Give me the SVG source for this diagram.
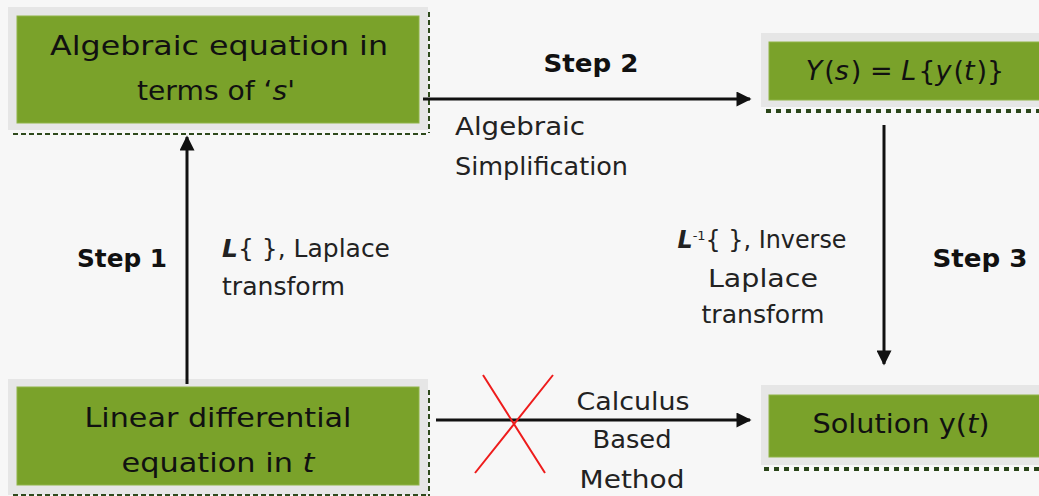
<svg xmlns="http://www.w3.org/2000/svg" width="1039" height="496" viewBox="0 0 1039 496">
<defs>
<style>
.bg{fill:#f7f7f7}
.outer{fill:#e6e6e6}
.inner{fill:#7aa22a;stroke:#8fb447;stroke-width:1}
.dash{stroke:#2e4a1c;stroke-width:2;stroke-dasharray:5 3;fill:none}
.dot{stroke:#2a4519;stroke-width:4;stroke-dasharray:5 5;fill:none}
.t{font-family:"DejaVu Sans","Liberation Sans",sans-serif;fill:#111}
.node{font-size:27px;text-anchor:middle}
.lab{font-size:24px;fill:#222}
.step{font-size:24px;font-weight:bold}
.edge{stroke:#111;stroke-width:3;fill:none}
</style>
<marker id="ah" viewBox="0 0 10 10" refX="9" refY="5" markerWidth="5.5" markerHeight="5" orient="auto" markerUnits="strokeWidth">
<path d="M0,0 L10,5 L0,10 Z" fill="#111"/>
</marker>
</defs>
<rect class="bg" x="0" y="0" width="1039" height="496"/>

<g id="node-algebraic">
<rect class="outer" x="8" y="7" width="420" height="123"/>
<rect class="inner" x="17" y="16" width="402" height="107"/>
<path class="dash" d="M429,12 V133 M13,134 H429"/>
<text class="t node" x="219" y="55" textLength="338" lengthAdjust="spacingAndGlyphs">Algebraic equation in</text>
<text class="t node" x="216" y="100" textLength="158" lengthAdjust="spacingAndGlyphs">terms of ‘<tspan font-style="italic">s</tspan>'</text>
</g>

<g id="node-Ys">
<rect class="outer" x="761" y="33" width="290" height="74"/>
<rect class="inner" x="769" y="42" width="280" height="58"/>
<path class="dot" d="M766,111 H1039"/>
<text class="t node" x="905" y="80"><tspan font-style="italic">Y</tspan><tspan dx="2">(</tspan><tspan font-style="italic">s</tspan><tspan dx="2">) = </tspan><tspan font-style="italic">L</tspan><tspan dx="2">{</tspan><tspan font-style="italic">y</tspan><tspan dx="2">(</tspan><tspan font-style="italic">t</tspan><tspan dx="2">)}</tspan></text>
</g>

<g id="node-linear">
<rect class="outer" x="8" y="379" width="420" height="116"/>
<rect class="inner" x="17" y="387" width="402" height="98"/>
<path class="dash" d="M429,390 V496 M13,495 H429"/>
<text class="t node" x="218" y="427" textLength="267" lengthAdjust="spacingAndGlyphs">Linear differential</text>
<text class="t node" x="218" y="472" textLength="193" lengthAdjust="spacingAndGlyphs">equation in <tspan font-style="italic">t</tspan></text>
</g>

<g id="node-solution">
<rect class="outer" x="761" y="385" width="290" height="80"/>
<rect class="inner" x="769" y="395" width="280" height="62"/>
<path class="dot" d="M764,469 H1039"/>
<text class="t node" x="901" y="433" textLength="177" lengthAdjust="spacingAndGlyphs">Solution y(<tspan font-style="italic">t</tspan>)</text>
</g>

<g id="connectors">
<line class="edge" x1="187" y1="384" x2="187" y2="137" marker-end="url(#ah)"/>
<line class="edge" x1="423" y1="99" x2="750" y2="99" marker-end="url(#ah)"/>
<line class="edge" x1="884" y1="125" x2="884" y2="364" marker-end="url(#ah)"/>
<line class="edge" x1="436" y1="420" x2="750" y2="420" marker-end="url(#ah)"/>
<path d="M483,375 L545,473 M553,375 L475,473" stroke="#ee1c1c" stroke-width="2" fill="none"/>
</g>

<g id="labels">
<text class="t step" x="122" y="267" text-anchor="middle" textLength="90" lengthAdjust="spacingAndGlyphs">Step 1</text>
<text class="t lab" x="222" y="257" textLength="168" lengthAdjust="spacingAndGlyphs"><tspan font-weight="bold" font-style="italic">L</tspan>{ }, Laplace</text>
<text class="t lab" x="222" y="295" textLength="123" lengthAdjust="spacingAndGlyphs">transform</text>

<text class="t step" x="591" y="72" text-anchor="middle" textLength="95" lengthAdjust="spacingAndGlyphs">Step 2</text>
<text class="t lab" x="455" y="135" textLength="130" lengthAdjust="spacingAndGlyphs">Algebraic</text>
<text class="t lab" x="455" y="175" textLength="173" lengthAdjust="spacingAndGlyphs">Simplification</text>

<text class="t step" x="980" y="267" text-anchor="middle" textLength="95" lengthAdjust="spacingAndGlyphs">Step 3</text>
<text class="t lab" x="762" y="248" text-anchor="middle" textLength="169" lengthAdjust="spacingAndGlyphs"><tspan font-weight="bold" font-style="italic">L</tspan><tspan font-size="13" dy="-8">-1</tspan><tspan dy="8">{ }, Inverse</tspan></text>
<text class="t lab" x="763" y="287" text-anchor="middle" textLength="110" lengthAdjust="spacingAndGlyphs">Laplace</text>
<text class="t lab" x="763" y="323" text-anchor="middle" textLength="123" lengthAdjust="spacingAndGlyphs">transform</text>

<text class="t lab" x="633" y="410" text-anchor="middle" textLength="113" lengthAdjust="spacingAndGlyphs">Calculus</text>
<text class="t lab" x="632" y="448" text-anchor="middle" textLength="79" lengthAdjust="spacingAndGlyphs">Based</text>
<text class="t lab" x="632" y="488" text-anchor="middle" textLength="105" lengthAdjust="spacingAndGlyphs">Method</text>
</g>
</svg>
